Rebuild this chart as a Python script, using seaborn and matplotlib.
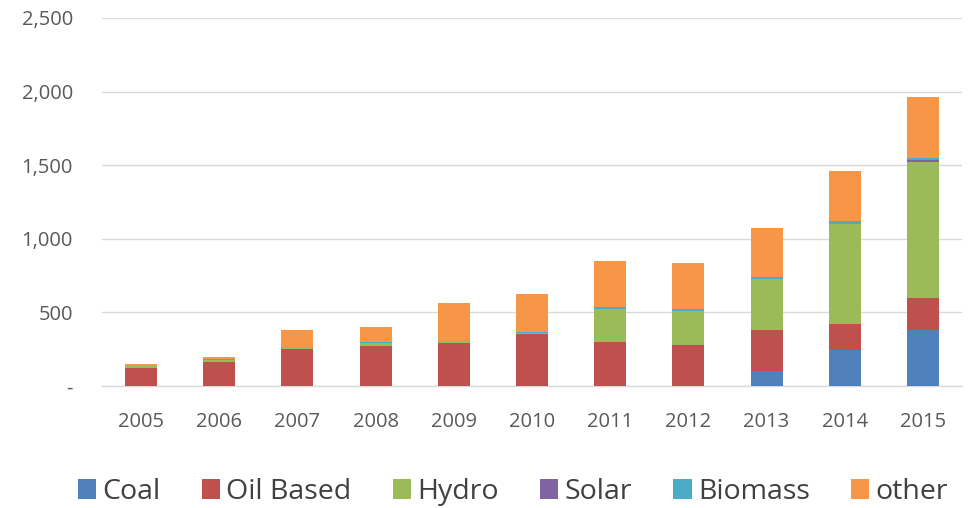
import numpy as np
import pandas as pd
import matplotlib
matplotlib.use("Agg")
import matplotlib.pyplot as plt
import seaborn as sns
from matplotlib.patches import Patch
from matplotlib.ticker import FuncFormatter

years = ["2005", "2006", "2007", "2008", "2009", "2010", "2011", "2012", "2013", "2014", "2015"]
coal = [0, 0, 0, 0, 0, 0, 0, 0, 104, 242, 378]
oil_based = [125, 165, 250, 272, 292, 350, 300, 280, 274, 177, 217]
hydro = [10, 12, 15, 20, 12, 12, 222, 230, 349, 679, 924]
solar = [0, 0, 0, 0, 0, 0, 0, 0, 0, 5, 13]
biomass = [3, 4, 3, 5, 5, 6, 18, 12, 15, 18, 16]
other = [12, 18, 112, 106, 257, 257, 306, 315, 333, 337, 414]

series_names = ["Coal", "Oil Based", "Hydro", "Solar", "Biomass", "other"]
series_vals = [coal, oil_based, hydro, solar, biomass, other]
colors = ["#4F81BD", "#C0504D", "#9BBB59", "#8064A2", "#4BACC6", "#F79646"]

sns.set_theme(style="white")
plt.rcParams["font.family"] = ["Open Sans", "DejaVu Sans"]

fig = plt.figure(figsize=(9.68, 5.08), dpi=100)
ax = fig.add_axes([102 / 968, 1 - 386 / 508, 860 / 968, 368 / 508])

cum = np.cumsum(np.array(series_vals, dtype=float), axis=0)
for i in range(len(series_names) - 1, -1, -1):
    df = pd.DataFrame({"year": years, "value": cum[i]})
    sns.barplot(data=df, x="year", y="value", color=colors[i], width=0.41,
                saturation=1, ax=ax, edgecolor="none", linewidth=0, zorder=3)

ax.set_ylim(0, 2500)
ax.set_xlim(-0.5, 10.5)
ax.set_yticks([0, 500, 1000, 1500, 2000, 2500])
ax.yaxis.set_major_formatter(FuncFormatter(lambda v, p: "-" if v == 0 else f"{int(v):,}"))
ax.grid(axis="y", color="#D9D9D9", linewidth=1, zorder=0)
ax.set_axisbelow(True)
for s in ["top", "right", "left"]:
    ax.spines[s].set_visible(False)
ax.spines["bottom"].set_color("#D9D9D9")
ax.spines["bottom"].set_linewidth(1)
ax.set_xlabel("")
ax.set_ylabel("")
ax.tick_params(axis="both", length=0, labelsize=14.5, colors="#595959")
ax.tick_params(axis="x", pad=19)
ax.tick_params(axis="y", pad=21)

handles = [Patch(facecolor=c, edgecolor="none") for c in colors]
fig.legend(handles, series_names, loc="center", bbox_to_anchor=(513 / 968, 1 - 492 / 508),
           ncol=6, frameon=False, prop={"family": "Open Sans", "size": 20.5},
           handlelength=0.64, handleheight=0.7,
           handletextpad=0.22, columnspacing=1.45, labelcolor="#404040")

fig.savefig("out.png", dpi=100)
